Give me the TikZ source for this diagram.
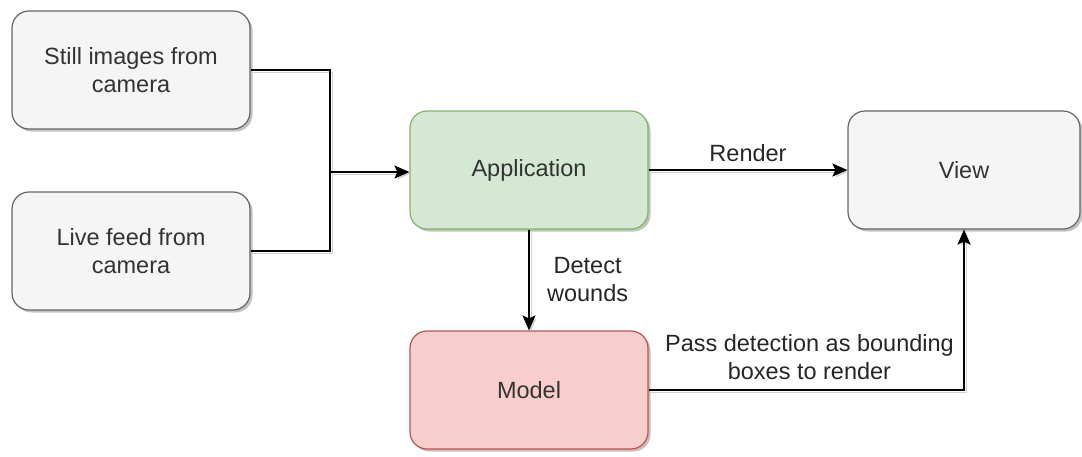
\documentclass[tikz,border=0pt]{standalone}
\usepackage{fontspec}
\setmainfont{Liberation Sans}
\usetikzlibrary{arrows.meta,shadows}
\definecolor{boxgrey}{HTML}{F5F5F5}
\definecolor{linegrey}{HTML}{666666}
\definecolor{appfill}{HTML}{D5E8D4}
\definecolor{appline}{HTML}{82B366}
\definecolor{modelfill}{HTML}{F8CECC}
\definecolor{modelline}{HTML}{B85450}
\definecolor{txt}{HTML}{333333}
\tikzset{
  block/.style={draw=linegrey, fill=boxgrey, rounded corners=17pt, line width=1.2pt,
    minimum width=238pt, minimum height=118pt, align=center, text=txt,
    font=\fontsize{23.5}{28}\selectfont,
    drop shadow={shadow xshift=2.5pt, shadow yshift=-2.5pt, fill=black!40, opacity=0.6}},
  wire/.style={line width=1.6pt, -{Stealth[length=15pt,width=13pt,inset=3pt]},
    preaction={draw=black!18, transform canvas={shift={(2pt,-2pt)}}}},
  link/.style={line width=1.6pt,
    preaction={draw=black!18, transform canvas={shift={(2pt,-2pt)}}}},
  lbl/.style={align=center, text=black!85, font=\fontsize{23.5}{28}\selectfont}
}
\begin{document}
\begin{tikzpicture}[x=1pt,y=-1pt]
\useasboundingbox (0,0) rectangle (1082,456);
% boxes
\node[block] (still) at (131,70) {Still images from\\camera};
\node[block] (live) at (131,251) {Live feed from\\camera};
\node[block, fill=appfill, draw=appline] (app) at (529,170) {Application};
\node[block, fill=modelfill, draw=modelline] (model) at (529,390) {Model};
\node[block, minimum width=232pt] (view) at (964,170) {View};
\coordinate (join) at (330,172);
% connectors
\draw[link] (still.east) -| (join);
\draw[link] (live.east) -| (join);
\draw[wire] (join) -- (app.west |- join);
\draw[wire] (app.east) -- node[lbl, above=4pt] (render) {Render} (view.west);
\draw[wire] (app.south) -- node[lbl, right=14pt] (detect) {Detect\\wounds} (model.north);
\draw[wire] (model.east) -| node[lbl, pos=0.255, above=6pt] (pass) {Pass detection as bounding\\boxes to render} (view.south);
\end{tikzpicture}
\end{document}
